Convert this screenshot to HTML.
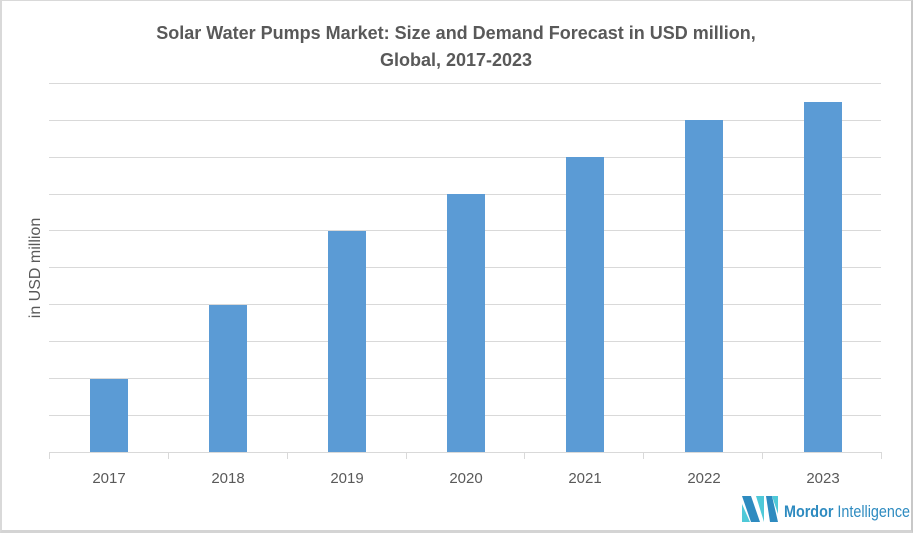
<!DOCTYPE html>
<html><head><style>
body{margin:0;background:#fff;}
.w{position:relative;box-sizing:border-box;width:913px;height:533px;border-top:1px solid #d9d9d9;border-left:2px solid #d9d9d9;border-right:2px solid #c8c8c8;border-bottom:3px solid #d4d4d4;overflow:hidden;font-family:"Liberation Sans",sans-serif;}
</style></head><body><div class="w">
<svg width="913" height="533" style="position:absolute;left:-2px;top:-1px">
<text x="456" y="39" text-anchor="middle" font-family="Liberation Sans, sans-serif" font-weight="bold" font-size="18" fill="#595959">Solar Water Pumps Market: Size and Demand Forecast in USD million,</text>
<text x="456" y="66" text-anchor="middle" font-family="Liberation Sans, sans-serif" font-weight="bold" font-size="18" fill="#595959">Global, 2017-2023</text>
<g stroke="#d9d9d9" stroke-width="1">
<line x1="49" x2="881" y1="83.5" y2="83.5"/><line x1="49" x2="881" y1="120.5" y2="120.5"/>
<line x1="49" x2="881" y1="157.5" y2="157.5"/><line x1="49" x2="881" y1="194.5" y2="194.5"/>
<line x1="49" x2="881" y1="230.5" y2="230.5"/><line x1="49" x2="881" y1="267.5" y2="267.5"/>
<line x1="49" x2="881" y1="304.5" y2="304.5"/><line x1="49" x2="881" y1="341.5" y2="341.5"/>
<line x1="49" x2="881" y1="378.5" y2="378.5"/><line x1="49" x2="881" y1="415.5" y2="415.5"/>
<line x1="49" x2="881" y1="452.5" y2="452.5"/>
<line x1="49.5" x2="49.5" y1="452" y2="459"/><line x1="168.5" x2="168.5" y1="452" y2="459"/>
<line x1="287.5" x2="287.5" y1="452" y2="459"/><line x1="406.5" x2="406.5" y1="452" y2="459"/>
<line x1="524.5" x2="524.5" y1="452" y2="459"/><line x1="643.5" x2="643.5" y1="452" y2="459"/>
<line x1="762.5" x2="762.5" y1="452" y2="459"/><line x1="881.5" x2="881.5" y1="452" y2="459"/>
</g>
<g fill="#5b9bd5">
<rect x="90" y="379" width="38" height="73"/>
<rect x="209" y="305" width="38" height="147"/>
<rect x="328" y="231" width="38" height="221"/>
<rect x="447" y="194" width="38" height="258"/>
<rect x="566" y="157" width="38" height="295"/>
<rect x="685" y="120" width="38" height="332"/>
<rect x="804" y="102" width="38" height="350"/>
</g>
<g font-family="Liberation Sans, sans-serif" font-size="15" fill="#595959" text-anchor="middle">
<text x="109" y="483">2017</text><text x="228" y="483">2018</text><text x="347" y="483">2019</text>
<text x="466" y="483">2020</text><text x="585" y="483">2021</text><text x="704" y="483">2022</text><text x="823" y="483">2023</text>
<text transform="translate(40,268) rotate(-90)" font-size="16">in USD million</text>
</g>
<g transform="translate(742,496)">
<polygon points="0,0 9,0 18,26 9,26" fill="#2e8bc0"/>
<polygon points="0,8 0,26 8,26" fill="#4fc9d8"/>
<polygon points="14,0 22,0 22,26" fill="#4fc9d8"/>
<polygon points="24,0 30,0 36,26 28,26" fill="#2e8bc0"/>
<polygon points="30,0 36,0 36,18" fill="#4fc9d8"/>
</g>
<text x="784" y="517" font-family="Liberation Sans, sans-serif" font-size="17" fill="#2e8bc0" textLength="126" lengthAdjust="spacingAndGlyphs"><tspan font-weight="bold">Mordor</tspan> Intelligence</text>
</svg>
</div></body></html>
